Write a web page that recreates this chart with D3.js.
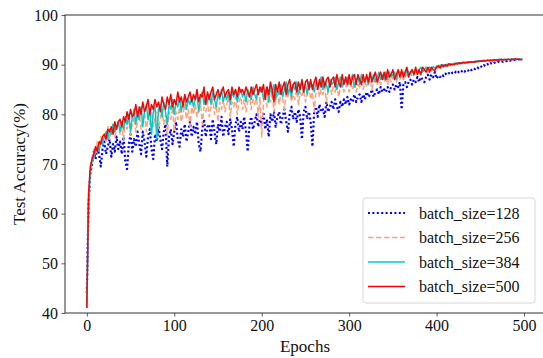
<!DOCTYPE html>
<html>
<head>
<meta charset="utf-8">
<script src="https://cdn.jsdelivr.net/npm/d3@7"></script>
<style>
  body { margin: 0; background: #fff; }
  svg { font-family: 'Liberation Serif', 'Times New Roman', serif; }
</style>
</head>
<body>
<div id="chart"></div>
<script>
// test accuracy read every 2 epochs (0, 2, ..., 498)
const bs128 = [
  44.0, 62.0, 68.0, 70.0, 72.5, 71.0, 73.5, 72.0, 69.5, 73.0,
  74.5, 72.0, 73.5, 75.0, 71.5, 74.0, 72.5, 75.5, 73.0, 74.5,
  72.0, 75.5, 70.5, 69.0, 74.0, 76.0, 72.5, 75.0, 73.5, 76.5,
  74.0, 72.0, 76.5, 74.5, 71.5, 75.5, 77.0, 73.0, 71.0, 76.0,
  74.5, 77.5, 75.0, 73.0, 76.5, 78.0, 69.5, 75.5, 77.0, 74.0,
  76.5, 78.5, 75.0, 73.5, 77.0, 75.5, 78.0, 74.5, 76.5, 78.5,
  75.5, 77.5, 76.0, 78.5, 74.0, 72.5, 77.0, 79.0, 75.5, 77.5,
  78.0, 75.0, 79.0, 76.5, 74.0, 78.0, 76.5, 79.5, 75.5, 77.5,
  78.5, 76.0, 79.0, 77.0, 73.5, 78.0, 79.5, 76.5, 78.5, 77.0,
  79.5, 76.5, 72.5, 78.0, 79.5, 77.0, 78.5, 80.0, 77.5, 79.0,
  78.0, 80.5, 77.0, 79.0, 75.5, 80.0, 78.5, 80.5, 77.5, 79.5,
  80.5, 78.0, 79.5, 81.0, 78.5, 76.5, 80.0, 81.5, 79.0, 80.5,
  78.5, 81.0, 79.5, 75.0, 80.5, 81.5, 79.0, 80.5, 78.5, 73.5,
  80.5, 81.5, 79.5, 82.0, 80.5, 81.0, 79.5, 82.5, 80.5, 81.5,
  82.5, 81.0, 83.0, 81.5, 80.5, 82.5, 81.5, 83.0, 82.0, 83.5,
  82.0, 83.0, 82.5, 84.0, 82.5, 83.5, 84.0, 82.5, 84.0, 83.0,
  84.5, 83.5, 84.0, 85.0, 83.5, 84.5, 85.0, 84.0, 85.5, 84.5,
  85.0, 84.5, 85.5, 84.5, 85.5, 86.0, 85.0, 86.0, 85.5, 86.5,
  81.0, 86.0, 86.5, 85.5, 86.5, 87.0, 86.0, 87.0, 86.5, 87.5,
  86.5, 87.5, 87.0, 86.5, 87.5, 88.0, 87.0, 88.0, 87.5, 88.5,
  87.2, 87.8, 87.5, 88.0, 87.7, 88.2, 87.9, 88.3, 88.0, 88.4,
  88.2, 88.6, 88.3, 88.7, 88.5, 88.9, 88.6, 89.0, 88.8, 89.2,
  88.9, 89.3, 89.1, 89.5, 89.3, 89.7, 89.5, 89.9, 89.7, 90.1,
  89.9, 90.3, 90.1, 90.4, 90.3, 90.6, 90.5, 90.7, 90.6, 90.8,
  90.7, 90.9, 90.8, 91.0, 90.9, 91.0, 91.0, 91.1, 91.0, 91.1
];
const bs256 = [
  42.0, 63.0, 69.0, 71.5, 73.0, 72.0, 74.5, 73.0, 75.5, 74.0,
  76.0, 74.5, 77.5, 75.0, 76.5, 78.0, 75.5, 77.0, 78.5, 76.0,
  77.5, 75.0, 78.5, 77.0, 79.0, 76.0, 78.0, 79.5, 76.5, 78.5,
  80.0, 77.0, 79.0, 80.5, 76.5, 79.5, 78.0, 80.5, 77.5, 79.5,
  80.5, 77.0, 79.0, 81.0, 78.0, 80.0, 75.5, 80.5, 79.0, 81.5,
  76.5, 80.5, 79.0, 81.5, 78.5, 80.0, 82.0, 79.0, 81.0, 77.5,
  81.5, 80.0, 82.0, 79.5, 81.0, 82.5, 78.0, 81.5, 80.5, 82.5,
  79.5, 81.5, 83.0, 80.0, 82.0, 78.5, 82.5, 81.0, 83.0, 80.5,
  82.0, 83.5, 79.5, 82.5, 81.5, 83.5, 80.0, 82.5, 83.5, 81.0,
  83.0, 80.5, 82.5, 84.0, 81.0, 83.0, 82.0, 84.0, 79.5, 83.5,
  75.5, 82.5, 84.0, 81.5, 83.5, 82.5, 84.5, 80.5, 83.0, 84.0,
  82.0, 84.5, 83.0, 81.0, 84.5, 83.5, 85.0, 82.5, 84.0, 83.0,
  85.0, 82.0, 84.5, 83.5, 85.0, 82.5, 84.0, 85.5, 83.0, 84.5,
  80.5, 84.5, 85.5, 83.5, 85.0, 84.0, 85.5, 82.5, 85.0, 86.0,
  84.0, 85.5, 84.5, 86.0, 83.5, 85.5, 86.0, 84.5, 85.5, 86.0,
  84.5, 86.0, 85.0, 86.5, 84.5, 86.0, 85.5, 86.5, 85.0, 86.5,
  85.5, 86.5, 87.0, 85.0, 86.5, 87.0, 86.0, 87.0, 86.0, 87.5,
  86.5, 87.0, 86.0, 87.5, 86.5, 87.5, 87.0, 86.5, 87.5, 87.0,
  88.0, 87.0, 87.5, 88.0, 87.5, 88.5, 87.5, 88.0, 88.5, 88.0,
  88.5, 88.0, 89.0, 88.5, 89.0, 88.5, 89.2, 88.8, 89.3, 89.0,
  89.5, 89.2, 89.6, 89.4, 89.8, 89.6, 90.0, 89.7, 90.0, 89.9,
  90.2, 90.0, 90.3, 90.1, 90.4, 90.2, 90.5, 90.3, 90.5, 90.4,
  90.6, 90.5, 90.7, 90.6, 90.7, 90.8, 90.7, 90.9, 90.8, 90.9,
  90.8, 91.0, 90.9, 91.0, 90.9, 91.0, 91.1, 91.0, 91.0, 91.1,
  91.1, 91.0, 91.1, 91.0, 91.2, 91.1, 91.0, 91.1, 91.2, 91.1
];
const bs384 = [
  41.0, 62.5, 68.5, 70.5, 71.5, 72.5, 73.5, 72.5, 74.5, 74.0,
  75.5, 76.5, 75.0, 77.0, 76.0, 78.0, 76.5, 77.5, 78.5, 76.5,
  78.5, 77.0, 79.5, 78.0, 80.0, 76.5, 79.5, 81.0, 78.0, 80.5,
  79.0, 81.5, 77.5, 80.5, 82.0, 79.0, 81.0, 76.0, 80.5, 81.5,
  75.0, 81.0, 82.0, 79.5, 82.5, 80.5, 78.0, 82.0, 81.0, 83.0,
  80.0, 82.5, 81.5, 83.5, 80.5, 82.5, 83.5, 81.0, 83.0, 82.0,
  83.5, 81.5, 83.0, 84.0, 80.5, 83.0, 84.5, 82.0, 83.5, 82.5,
  84.0, 82.0, 84.5, 83.0, 81.5, 84.0, 83.0, 85.0, 82.5, 84.0,
  83.0, 84.5, 82.0, 84.5, 83.5, 85.0, 82.5, 84.0, 85.0, 83.5,
  84.5, 82.5, 85.0, 84.0, 83.0, 85.5, 84.0, 83.0, 85.0, 84.5,
  85.5, 83.0, 84.5, 85.5, 82.5, 85.5, 84.0, 86.0, 83.0, 85.0,
  84.0, 86.0, 83.5, 85.0, 86.5, 84.0, 85.5, 83.5, 86.0, 85.0,
  86.5, 84.0, 85.5, 86.5, 84.5, 86.0, 84.0, 86.5, 85.5, 86.0,
  84.5, 86.5, 85.5, 86.0, 87.5, 85.0, 86.5, 86.0, 84.5, 87.0,
  86.0, 86.5, 87.5, 85.0, 86.5, 87.5, 85.5, 87.0, 86.5, 87.5,
  86.0, 87.0, 88.0, 85.5, 87.0, 87.5, 86.0, 88.0, 86.5, 87.0,
  87.5, 86.0, 88.0, 87.0, 88.0, 86.5, 87.5, 88.5, 87.0, 88.0,
  87.0, 88.5, 87.0, 88.5, 87.5, 88.0, 88.5, 87.0, 88.5, 88.5,
  88.0, 88.5, 87.5, 89.0, 88.5, 88.0, 89.0, 88.0, 89.0, 88.5,
  89.0, 89.5, 88.5, 89.0, 89.5, 89.0, 89.5, 89.0, 89.6, 89.3,
  89.7, 89.4, 89.9, 89.6, 90.0, 89.7, 90.1, 89.9, 90.2, 90.0,
  90.3, 90.1, 90.4, 90.2, 90.4, 90.3, 90.5, 90.4, 90.6, 90.5,
  90.6, 90.5, 90.7, 90.6, 90.8, 90.7, 90.8, 90.9, 90.8, 90.9,
  90.9, 90.8, 91.0, 90.9, 91.0, 91.0, 91.1, 90.9, 91.0, 91.1,
  91.0, 91.1, 91.0, 91.2, 91.1, 91.1, 91.0, 91.2, 91.1, 91.0
];
const bs500 = [
  41.0, 64.0, 69.5, 71.0, 72.0, 73.5, 72.5, 74.5, 74.0, 75.5,
  76.0, 75.0, 77.0, 76.5, 77.5, 76.0, 78.5, 77.0, 78.5, 79.0,
  77.5, 79.5, 78.5, 80.5, 79.0, 81.0, 79.5, 80.0, 82.0, 79.5,
  81.5, 80.0, 82.5, 80.5, 81.5, 83.0, 80.0, 82.0, 81.0, 83.0,
  81.5, 82.5, 80.5, 83.5, 82.0, 81.0, 83.5, 82.0, 84.0, 81.5,
  83.0, 82.0, 84.5, 82.5, 83.5, 81.5, 84.0, 82.5, 83.5, 84.5,
  82.5, 84.0, 83.0, 85.0, 82.5, 84.0, 83.5, 85.5, 82.0, 84.5,
  83.0, 84.5, 85.5, 83.0, 84.0, 85.0, 83.5, 84.5, 85.5, 83.5,
  84.5, 85.0, 83.0, 85.5, 84.0, 85.0, 83.5, 85.5, 84.5, 85.0,
  84.0, 85.5, 84.5, 83.5, 85.5, 84.0, 85.0, 86.0, 84.0, 85.5,
  84.5, 86.0, 83.0, 85.5, 84.0, 86.5, 85.0, 82.5, 86.0, 84.5,
  86.5, 84.0, 85.5, 86.5, 84.0, 86.0, 87.0, 84.5, 86.0, 86.5,
  84.5, 86.5, 85.0, 87.0, 84.5, 86.5, 87.0, 85.0, 87.0, 85.0,
  86.5, 87.5, 85.0, 87.0, 85.5, 87.5, 85.5, 87.0, 87.5, 85.5,
  87.0, 87.5, 85.5, 88.0, 86.5, 85.5, 88.0, 86.0, 87.5, 86.0,
  88.0, 86.0, 87.5, 88.0, 86.0, 88.0, 87.0, 86.0, 88.0, 86.5,
  88.0, 86.5, 88.5, 86.5, 87.5, 88.5, 86.5, 87.5, 88.5, 87.0,
  88.5, 87.0, 89.0, 87.5, 88.0, 89.0, 87.0, 88.0, 89.0, 87.5,
  89.0, 87.5, 88.5, 89.5, 87.5, 88.5, 89.0, 88.0, 89.5, 88.0,
  89.0, 88.0, 89.5, 89.0, 88.5, 89.5, 88.5, 89.5, 89.0, 88.8,
  89.5, 89.8, 89.3, 90.0, 89.6, 90.0, 89.7, 90.2, 89.9, 90.1,
  90.0, 90.3, 90.1, 90.4, 90.2, 90.5, 90.3, 90.5, 90.4, 90.6,
  90.5, 90.6, 90.5, 90.7, 90.6, 90.8, 90.7, 90.8, 90.7, 90.9,
  90.8, 90.9, 90.8, 91.0, 90.9, 91.0, 90.9, 91.1, 91.0, 91.0,
  91.0, 91.1, 91.0, 91.1, 91.0, 91.2, 91.1, 91.1, 91.0, 91.1
];
const epochs = d3.range(0, 500, 2);
const xTicks = [0, 100, 200, 300, 400, 500];
const yTicks = [40, 50, 60, 70, 80, 90, 100];

const series = [
  { name: 'batch_size=128', values: bs128, color: '#0000ff', dash: '2,2.4', width: 2.2 },
  { name: 'batch_size=256', values: bs256, color: '#ffa07a', dash: '5.5,2.5', width: 1.5 },
  { name: 'batch_size=384', values: bs384, color: '#00cccc', dash: null, width: 1.5 },
  { name: 'batch_size=500', values: bs500, color: '#ff0000', dash: null, width: 1.5 }
];

const width = 543, height = 358;
const mLeft = 65, mRight = 545, mTop = 15, mBottom = 313;

const svg = d3.select('#chart').append('svg')
  .attr('width', width)
  .attr('height', height);

const x = d3.scaleLinear().domain([-24.95, 523.95]).range([mLeft, mRight]);
const y = d3.scaleLinear().domain([40, 100]).range([mBottom, mTop]);

svg.append('clipPath').attr('id', 'clip')
  .append('rect').attr('x', mLeft).attr('y', mTop)
  .attr('width', mRight - mLeft).attr('height', mBottom - mTop);

const line = d3.line()
  .x((d, i) => x(epochs[i]))
  .y(d => y(d));

const plot = svg.append('g').attr('clip-path', 'url(#clip)');
series.forEach(s => {
  plot.append('path')
    .datum(s.values)
    .attr('d', line)
    .attr('fill', 'none')
    .attr('stroke', s.color)
    .attr('stroke-width', s.width)
    .attr('stroke-dasharray', s.dash)
    .attr('stroke-linejoin', 'round');
});

// axes
const xAxis = svg.append('g')
  .attr('transform', 'translate(0,' + mBottom + ')')
  .call(d3.axisBottom(x).tickValues(xTicks).tickSize(3.5).tickPadding(3.5));
const yAxis = svg.append('g')
  .attr('transform', 'translate(' + mLeft + ',0)')
  .call(d3.axisLeft(y).tickValues(yTicks).tickSize(3.5).tickPadding(3.5));

[xAxis, yAxis].forEach(a => {
  a.select('.domain').remove();
  a.selectAll('line').attr('stroke', '#333').attr('stroke-width', 0.8);
  a.selectAll('text')
    .attr('font-family', 'Liberation Serif, Times New Roman, serif')
    .attr('font-size', 16)
    .attr('fill', '#111');
});

// frame
svg.append('rect')
  .attr('x', mLeft).attr('y', mTop)
  .attr('width', mRight - mLeft).attr('height', mBottom - mTop)
  .attr('fill', 'none')
  .attr('stroke', '#333')
  .attr('stroke-width', 1);

svg.append('text')
  .attr('x', (mLeft + mRight) / 2)
  .attr('y', 352)
  .attr('text-anchor', 'middle')
  .attr('font-size', 17)
  .attr('fill', '#111')
  .text('Epochs');

svg.append('text')
  .attr('transform', 'translate(25,' + (mTop + mBottom) / 2 + ') rotate(-90)')
  .attr('text-anchor', 'middle')
  .attr('font-size', 17)
  .attr('fill', '#111')
  .text('Test Accuracy(%)');

// legend
const legend = svg.append('g');
legend.append('rect')
  .attr('x', 363).attr('y', 198)
  .attr('width', 172).attr('height', 105)
  .attr('rx', 3)
  .attr('fill', 'rgba(255,255,255,0.8)')
  .attr('stroke', '#d6d6d6')
  .attr('stroke-width', 1);

series.forEach((s, i) => {
  const ly = 213 + i * 24.5;
  legend.append('line')
    .attr('x1', 368).attr('x2', 405)
    .attr('y1', ly).attr('y2', ly)
    .attr('stroke', s.color)
    .attr('stroke-width', s.width)
    .attr('stroke-dasharray', s.dash);
  legend.append('text')
    .attr('x', 419).attr('y', ly + 5.5)
    .attr('font-size', 16)
    .attr('fill', '#111')
    .text(s.name);
});
</script>
</body>
</html>
